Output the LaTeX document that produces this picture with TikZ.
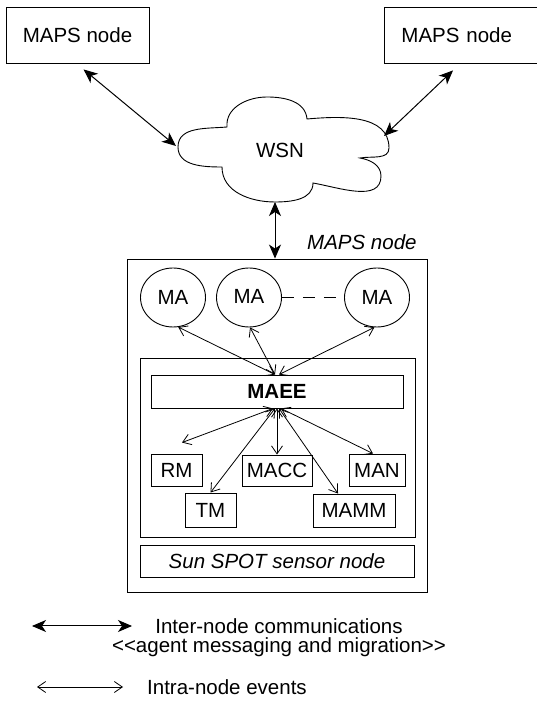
\documentclass[tikz,border=0pt]{standalone}
\usepackage{fontspec}
\setmainfont{Liberation Sans}
\usetikzlibrary{arrows.meta,calc,shapes.geometric}
\begin{document}
\begin{tikzpicture}[x=1pt,y=1pt,
  font=\fontsize{20.5}{24}\selectfont,
  every node/.style={inner sep=0pt},
  box/.style={draw, line width=0.9pt},
  agent/.style={draw, ellipse, line width=0.9pt, minimum width=65, minimum height=59},
  inter/.style={line width=1pt,
    {Stealth[length=14pt,width=12pt,inset=4pt]}-{Stealth[length=14pt,width=12pt,inset=4pt]}},
  intra/.style={line width=0.8pt,
    {Straight Barb[length=8pt,width=11pt]}-{Straight Barb[length=8pt,width=11pt]}},
]
\useasboundingbox (0,0) rectangle (537,704);
\clip (0,0) rectangle (537,704);

% remote nodes
\node[box, minimum width=143, minimum height=56] (mapsL) at (77.5,669) {MAPS node};
\node[box, anchor=west, minimum height=56, text width=126, inner xsep=17, align=left]
  (mapsR) at (384,669) {MAPS node};

% wireless sensor network cloud
\coordinate (cA) at (178,557);
\coordinate (cB) at (227,577);
\coordinate (cC) at (267,607);
\coordinate (cD) at (307,585);
\coordinate (cE) at (389,556);
\coordinate (cF) at (360,546);
\coordinate (cG) at (381,528);
\coordinate (cH) at (313,521);
\coordinate (cI) at (275,502);
\coordinate (cJ) at (222,537);
\draw[line width=0.9pt]
  (cA) to[out=90,in=185] (cB) to[out=95,in=180] (cC) to[out=0,in=95] (cD)
  to[out=5,in=90] (cE) to[out=-90,in=10] (cF) to[out=-10,in=90] (cG)
  to[out=-90,in=-10] (cH) to[out=-90,in=0] (cI) to[out=180,in=-90] (cJ)
  to[out=180,in=-90] (cA) -- cycle;
\node (wsn) at (280,554) {WSN};

\coordinate (wsnL) at (176,558);
\coordinate (wsnR) at (384,568);
\coordinate (wsnB) at (275,502);
\coordinate (mapsLlink) at ($(mapsL.south west)+(78,-6)$);
\coordinate (mapsRlink) at ($(mapsR.south west)+(69,-7)$);

% local MAPS node
\node[box, minimum width=300, minimum height=333] (outer) at (277,278.5) {};
\node[anchor=west] (outerlbl) at (307,462) {\itshape MAPS node};
\node[box, minimum width=275, minimum height=179] (inner) at (277.5,256.5) {};
\node[box, minimum width=252, minimum height=33] (maee) at (277,312.5) {\bfseries MAEE};
\node[box, minimum width=274, minimum height=32] (sun) at (277,143) {\itshape Sun SPOT sensor node};

\node[agent] (ma1) at (173,406.5) {MA};
\node[agent] (ma2) at (249,406.5) {\raisebox{3pt}{MA}};
\node[agent] (ma3) at (377,406.5) {MA};
\draw[line width=0.9pt, dash pattern=on 12pt off 9pt] (ma2.east) -- (ma3.west);

\node[box, minimum width=51, minimum height=32] (rm) at (176.5,234) {RM};
\node[box, minimum width=51, minimum height=34] (tm) at (210.5,194) {TM};
\node[box, minimum width=70, minimum height=31] (macc) at (277,233.5) {MACC};
\node[box, minimum width=56, minimum height=32] (man) at (377,234) {MAN};
\node[box, minimum width=82, minimum height=33] (mamm) at (354,193.5) {MAMM};

% inter-node links
\draw[inter] (mapsLlink) -- (wsnL);
\draw[inter] (mapsRlink) -- (wsnR);
\draw[inter] (wsnB) -- ($(outer.north)+(-2,0)$);

% intra-node events
\draw[intra] (ma1.-80) -- ($(maee.north)+(-2,0)$);
\draw[intra] (ma2.-88) -- ($(maee.north)+(-2,0)$);
\draw[intra] (ma3.-95) -- ($(maee.north)+(2,0)$);

\coordinate (rmlink) at ($(rm.north)+(5.5,11)$);
\draw[intra] ($(maee.south)+(-4,0)$) -- (rmlink);
\draw[intra] ($(maee.south)+(-2,0)$) -- (tm.north);
\draw[intra] (maee.south) -- (macc.north);
\draw[intra] ($(maee.south)+(2,0)$) -- ($(mamm.north)+(-16,0)$);
\draw[intra] ($(maee.south)+(4,0)$) -- ($(man.north)+(-4,0)$);

% legend
\coordinate (legA1) at (32,78);
\coordinate (legA2) at (132,78);
\draw[inter] (legA1) -- (legA2);
\node (legInter) at (279,78) {Inter-node communications};
\node (legMsg) at (279,57) {<\kern0pt<agent messaging and migration>\kern0pt>};
\coordinate (legB1) at (37,17);
\coordinate (legB2) at (123,17);
\draw[intra] (legB1) -- (legB2);
\node[anchor=west] (legIntra) at (147,17) {Intra-node events};
\end{tikzpicture}
\end{document}
